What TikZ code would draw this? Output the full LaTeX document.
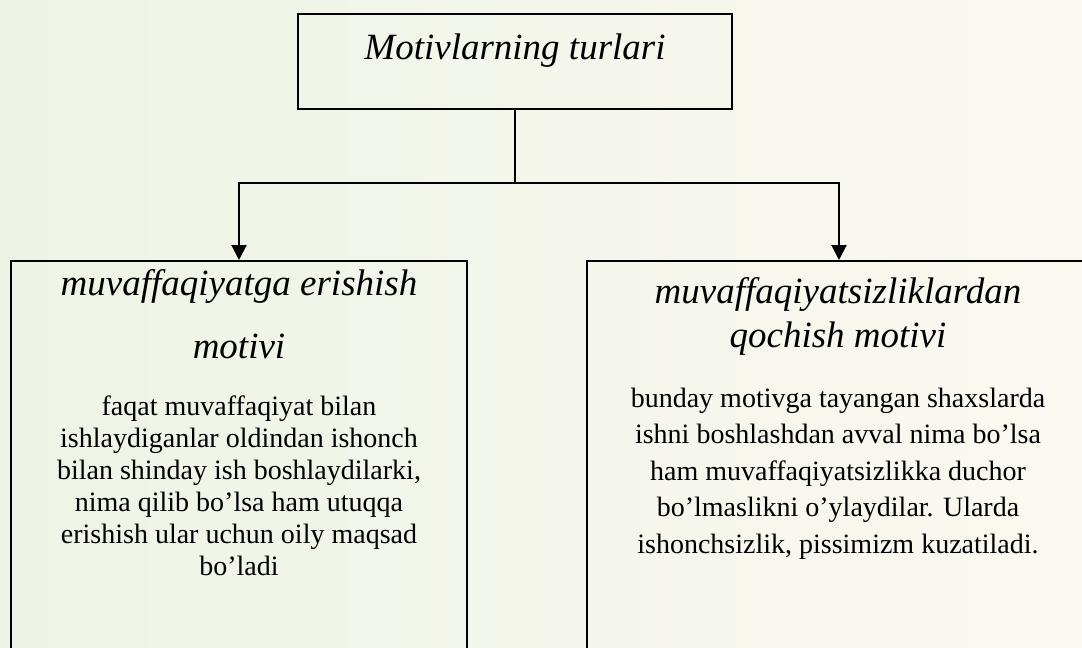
\documentclass[tikz,border=0pt]{standalone}
\usepackage{fontspec}
\setmainfont{Liberation Serif}
\usetikzlibrary{arrows.meta}
\definecolor{bgleft}{RGB}{237,244,229}
\definecolor{bgright}{RGB}{251,248,240}
\tikzset{
  x=1pt, y=-1pt,
  boxstyle/.style={draw=black, line width=2pt, inner sep=0pt, fill=none},
  conn/.style={draw=black, line width=2pt},
  arr/.style={conn, -{Triangle[width=15pt,length=15pt]}},
  headtext/.style={font=\fontsize{37}{44}\selectfont\itshape, anchor=base, inner sep=0pt, align=center},
  bodytext/.style={font=\fontsize{28}{32}\selectfont, anchor=base, inner sep=0pt, align=center}
}
\begin{document}
\begin{tikzpicture}
\useasboundingbox (0,0) rectangle (1082,648);
\clip (0,0) rectangle (1082,648);
\shade[left color=bgleft, right color=bgright] (0,0) rectangle (1082,648);

% boxes
\node[boxstyle, minimum width=434pt, minimum height=95pt, anchor=north] (top) at (515,13) {};
\node[boxstyle, minimum width=456pt, minimum height=420pt, anchor=north] (lbox) at (239,260) {};
\node[boxstyle, minimum width=504pt, minimum height=420pt, anchor=north] (rbox) at (839,260) {};

% texts (base anchor = baseline of the last line)
\node[headtext] (ttl) at (515,59) {Motivlarning turlari};
\node[headtext, font=\fontsize{37}{63}\selectfont\itshape] (lhead) at (239,358) {muvaffaqiyatga erishish\\motivi};
\node[headtext] (rhead) at (838,347) {muvaffaqiyatsizliklardan\\qochish motivi};
\node[bodytext] (lbody) at (239,575) {faqat muvaffaqiyat bilan\\ishlaydiganlar oldindan ishonch\\bilan shinday ish boshlaydilarki,\\nima qilib bo’lsa ham utuqqa\\erishish ular uchun oily maqsad\\bo’ladi};
\node[bodytext, font=\fontsize{28}{36.5}\selectfont] (rbody) at (838,553) {bunday motivga tayangan shaxslarda\\ishni boshlashdan avval nima bo’lsa\\ham muvaffaqiyatsizlikka duchor\\bo’lmaslikni o’ylaydilar. Ularda\\ishonchsizlik, pissimizm kuzatiladi.};

% connectors
\coordinate (j) at (515,183);
\draw[conn] (top.south) -- (j);
\draw[arr] (j) -| (lbox.north);
\draw[arr] (j) -| (rbox.north);
\end{tikzpicture}
\end{document}
